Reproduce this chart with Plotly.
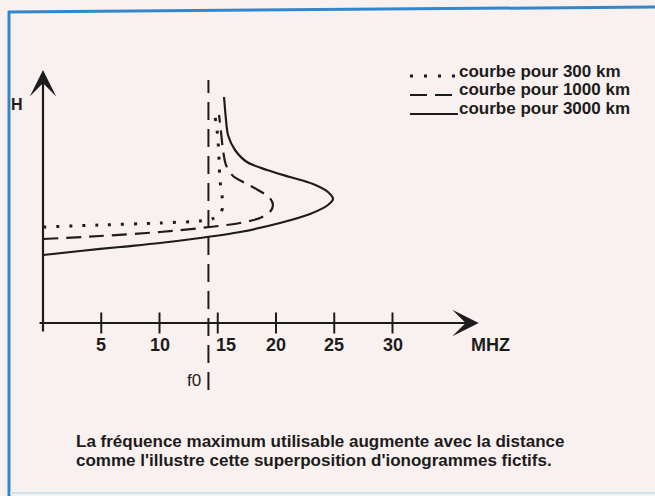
import plotly.graph_objects as go

# ---------------- data ----------------
freq_ticks = [5, 10, 15, 20, 25, 30]
tick_labels = ["5", "10", "15", "20", "25", "30"]
f0 = 14.2  # MHz

# ionogram curves : frequency (MHz) / virtual height (arbitrary units)
f_300 = [0, 4.89, 10.04, 13.48, 14.51, 15.19, 15.45, 15.36, 15.19, 15.11, 15.02, 14.85, 14.59]
h_300 = [9.6, 9.8, 10.0, 10.2, 10.4, 10.9, 11.7, 12.8, 14.3, 16.3, 18.3, 20.1, 21.3]

f_1000 = [0, 4.89, 10.04, 14.33, 16.91, 18.63, 19.48, 19.74, 19.48, 18.45, 17.34, 16.31,
          15.71, 15.45, 15.28, 15.11]
h_1000 = [8.4, 8.7, 9.1, 9.6, 10.0, 10.5, 11.1, 11.8, 12.5, 13.3, 14.0, 14.7,
          15.8, 17.3, 19.1, 20.8]

f_3000 = [0, 3.18, 6.61, 10.04, 13.48, 16.91, 20.34, 22.92, 24.46, 24.89, 24.46, 23.18,
          21.20, 19.23, 17.51, 16.48, 15.88, 15.71, 15.54]
h_3000 = [6.8, 7.2, 7.6, 8.0, 8.5, 9.1, 10.0, 10.9, 11.8, 12.4, 13.1, 13.9,
          14.6, 15.3, 16.1, 17.3, 18.8, 20.3, 22.6]

legend_labels = ["courbe pour 300 km", "courbe pour 1000 km", "courbe pour 3000 km"]
caption_lines = ["La fréquence maximum utilisable augmente avec la distance",
                 "comme l'illustre cette superposition d'ionogrammes fictifs."]

# ---------------- layout helpers ----------------
W, HT = 655, 496
X_RANGE = [-3.691, 52.532]
Y_RANGE = [-17.3, 32.3]
INK = "#1c1c1c"
BG = "#f9f1ef"
FONT = "Liberation Sans, Arial, sans-serif"


def px(x):
    return x / W


def py(y):
    return 1 - y / HT


fig = go.Figure()

curve_style = dict(color=INK, width=2.2, shape="spline", smoothing=0.8)
fig.add_trace(go.Scatter(x=f_300, y=h_300, mode="lines",
                         line=dict(curve_style, dash="3px,10px", width=3), showlegend=False))
fig.add_trace(go.Scatter(x=f_1000, y=h_1000, mode="lines",
                         line=dict(curve_style, dash="15px,8px"), showlegend=False))
fig.add_trace(go.Scatter(x=f_3000, y=h_3000, mode="lines",
                         line=curve_style, showlegend=False))

# f0 vertical dashed line
fig.add_trace(go.Scatter(x=[f0, f0], y=[-6.7, 24.3], mode="lines",
                         line=dict(color=INK, width=2, dash="18px,9px"), showlegend=False))

# axis tick marks (crossing the axis)
fig.add_trace(go.Scatter(x=freq_ticks, y=[0] * len(freq_ticks), mode="markers",
                         marker=dict(symbol="line-ns-open", size=15, color=INK,
                                     line=dict(color=INK, width=2)),
                         showlegend=False))

ann = []
# axes arrows
ann.append(dict(x=37.4, y=0, ax=-0.43, ay=0, xref="x", yref="y", axref="x", ayref="y",
                showarrow=True, arrowhead=3, arrowsize=2.0, arrowwidth=2.2,
                arrowcolor=INK, text=""))
ann.append(dict(x=0, y=25.3, ax=0, ay=-1.0, xref="x", yref="y", axref="x", ayref="y",
                showarrow=True, arrowhead=3, arrowsize=2.0, arrowwidth=2.2,
                arrowcolor=INK, text=""))

tick_font = dict(family=FONT, size=18, color=INK, weight="bold")
for v, t in zip(freq_ticks, tick_labels):
    ann.append(dict(x=v, y=-2.2, xref="x", yref="y", text=t, showarrow=False,
                    font=tick_font, xanchor="center", yanchor="middle",
                    xshift=8 if v == 15 else 0))
ann.append(dict(x=f0, y=-5.7, xref="x", yref="y", text="f0", showarrow=False,
                font=dict(family=FONT, size=17, color=INK), xanchor="right",
                yanchor="middle", xshift=-5))
ann.append(dict(x=px(490), y=py(345), xref="paper", yref="paper", text="MHZ",
                showarrow=False, font=tick_font, xanchor="center", yanchor="middle"))
ann.append(dict(x=px(17), y=py(105), xref="paper", yref="paper", text="H",
                showarrow=False, font=dict(family=FONT, size=16, color=INK, weight="bold"),
                xanchor="center", yanchor="middle"))

# legend text
leg_font = dict(family=FONT, size=17, color=INK, weight="bold")
for lab, yy in zip(legend_labels, [71, 90, 109]):
    ann.append(dict(x=px(458), y=py(yy), xref="paper", yref="paper", text=lab,
                    showarrow=False, font=leg_font, xanchor="left", yanchor="middle",
                    borderpad=0))

cap_font = dict(family=FONT, size=17, color=INK, weight="bold")
for line, yy in zip(caption_lines, [441, 460]):
    ann.append(dict(x=px(75), y=py(yy), xref="paper", yref="paper", text=line,
                    showarrow=False, font=cap_font, xanchor="left", yanchor="middle",
                    borderpad=0))

shapes = [
    # legend keys
    dict(type="line", xref="paper", yref="paper", x0=px(410), x1=px(455), y0=py(76), y1=py(76),
         line=dict(color=INK, width=3, dash="3px,11px")),
    dict(type="line", xref="paper", yref="paper", x0=px(410), x1=px(456), y0=py(95), y1=py(95),
         line=dict(color=INK, width=2.2, dash="17px,8px")),
    dict(type="line", xref="paper", yref="paper", x0=px(410), x1=px(458), y0=py(114), y1=py(114),
         line=dict(color=INK, width=2.2)),
    # blue frame
    dict(type="line", xref="paper", yref="paper", x0=px(9), x1=px(9), y0=py(11), y1=py(496),
         line=dict(color="#3286cc", width=3)),
    dict(type="line", xref="paper", yref="paper", x0=px(8), x1=px(655), y0=py(12), y1=py(7),
         line=dict(color="#3286cc", width=3)),
    dict(type="line", xref="paper", yref="paper", x0=px(10), x1=px(655), y0=py(493), y1=py(493),
         line=dict(color="#cfe3ef", width=2)),
]

fig.update_layout(
    width=W, height=HT, autosize=False,
    margin=dict(l=0, r=0, t=0, b=0),
    paper_bgcolor=BG, plot_bgcolor=BG,
    xaxis=dict(range=X_RANGE, visible=False, fixedrange=True),
    yaxis=dict(range=Y_RANGE, visible=False, fixedrange=True),
    annotations=ann, shapes=shapes, showlegend=False,
)

fig.write_html("out.html", config={"displayModeBar": False},
               post_script="document.body.style.margin='0';"
                           "document.body.style.overflow='hidden';"
                           f"document.body.style.background='{BG}';")
